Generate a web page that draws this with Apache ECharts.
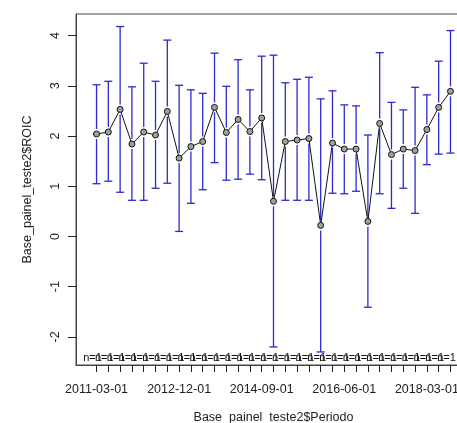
<!DOCTYPE html>
<html>
<head>
<meta charset="utf-8">
<script src="https://cdn.jsdelivr.net/npm/echarts@6/dist/echarts.min.js"></script>
<style>
  html, body { margin: 0; padding: 0; background: #fff; overflow: hidden; }
  #chart { width: 490px; height: 423px; }
</style>
</head>
<body>
<div id="chart"></div>
<script>
// quarterly periods, one group each
const periods = [
  '2011-03-01', '2011-06-01', '2011-09-01', '2011-12-01',
  '2012-03-01', '2012-06-01', '2012-09-01', '2012-12-01',
  '2013-03-01', '2013-06-01', '2013-09-01', '2013-12-01',
  '2014-03-01', '2014-06-01', '2014-09-01', '2014-12-01',
  '2015-03-01', '2015-06-01', '2015-09-01', '2015-12-01',
  '2016-03-01', '2016-06-01', '2016-09-01', '2016-12-01',
  '2017-03-01', '2017-06-01', '2017-09-01', '2017-12-01',
  '2018-03-01', '2018-06-01', '2018-09-01'
]
const means = [2.04, 2.08, 2.53, 1.84, 2.08, 2.02, 2.49, 1.56, 1.79, 1.89, 2.57, 2.07, 2.33, 2.09, 2.36, 0.70,
  1.89, 1.92, 1.95, 0.22, 1.86, 1.74, 1.74, 0.30, 2.25, 1.63, 1.74, 1.71, 2.13, 2.57, 2.89]
const upper = [3.02, 3.09, 4.18, 2.98, 3.45, 3.09, 3.91, 3.01, 2.92, 2.85, 3.65, 2.99, 3.52, 2.92, 3.59, 3.61,
  3.06, 3.13, 3.17, 2.74, 2.90, 2.62, 2.60, 2.02, 3.66, 2.67, 2.52, 2.97, 2.82, 3.49, 4.10]
const lower = [1.05, 1.10, 0.88, 0.72, 0.72, 0.96, 1.06, 0.10, 0.66, 0.93, 1.47, 1.12, 1.14, 1.24, 1.13, -2.20,
  0.72, 0.72, 0.72, -2.30, 0.86, 0.85, 0.90, -1.41, 0.85, 0.56, 0.96, 0.46, 1.43, 1.64, 1.66]
const counts = [1, 1, 1, 1, 1, 1, 1, 1, 1, 1, 1, 1, 1, 1, 1, 1, 1, 1, 1, 1, 1, 1, 1, 1, 1, 1, 1, 1, 1, 1, 1]
const xLabelIdx = [0, 7, 14, 21, 28]
const yTicks = [-2, -1, 0, 1, 2, 3, 4]

const barColor = '#2b2bd0'
const font = 'Liberation Sans, Arial, sans-serif'

// the plot box runs past the right edge of the window, like the original
const chart = echarts.init(document.getElementById('chart'), null, { renderer: 'canvas' })

const idx = periods.map((p, i) => i)

chart.setOption({
  animation: false,
  grid: {
    left: 76,
    top: 14,
    width: 395,
    height: 351,
    outerBoundsMode: 'none',
    containLabel: false,
    show: true,
    borderColor: '#444',
    borderWidth: 1,
    backgroundColor: 'transparent'
  },
  xAxis: {
    type: 'value',
    min: -1.74,
    max: 31.74,
    name: 'Base_painel_teste2$Periodo',
    nameLocation: 'middle',
    nameGap: 46,
    nameTextStyle: { color: '#222', fontSize: 12.5, fontFamily: font },
    axisLine: { show: true, onZero: false, lineStyle: { color: '#444', width: 1 } },
    splitLine: { show: false },
    axisTick: { show: true, inside: false, length: 7, customValues: idx, lineStyle: { color: '#222', width: 1 } },
    axisLabel: {
      customValues: xLabelIdx,
      margin: 18,
      color: '#222',
      fontSize: 12.5,
      fontFamily: font,
      formatter: v => periods[Math.round(v)]
    }
  },
  yAxis: {
    type: 'value',
    min: -2.56,
    max: 4.43,
    name: 'Base_painel_teste2$ROIC',
    nameLocation: 'middle',
    nameRotate: 90,
    nameGap: 42,
    nameTextStyle: { color: '#222', fontSize: 12.5, fontFamily: font },
    axisLine: { show: true, onZero: false, lineStyle: { color: '#444', width: 1 } },
    splitLine: { show: false },
    axisTick: { show: true, inside: false, length: 8, customValues: yTicks, lineStyle: { color: '#222', width: 1 } },
    axisLabel: {
      customValues: yTicks,
      rotate: 90,
      margin: 14,
      color: '#222',
      fontSize: 12.5,
      fontFamily: font
    }
  },
  series: [
    {
      // confidence bars, broken around the mean
      type: 'custom',
      data: idx.map(i => [i, upper[i], lower[i], means[i]]),
      renderItem: function(params, api) {
        const x = api.value(0)
        const top = api.coord([x, api.value(1)])
        const bot = api.coord([x, api.value(2)])
        const mid = api.coord([x, api.value(3)])
        const gap = 5
        const cap = 4
        const style = { stroke: barColor, lineWidth: 1.3 }
        return {
          type: 'group',
          children: [
            { type: 'line', shape: { x1: top[0], y1: top[1], x2: top[0], y2: mid[1] - gap }, style: style },
            { type: 'line', shape: { x1: bot[0], y1: mid[1] + gap, x2: bot[0], y2: bot[1] }, style: style },
            { type: 'line', shape: { x1: top[0] - cap, y1: top[1], x2: top[0] + cap, y2: top[1] }, style: style },
            { type: 'line', shape: { x1: bot[0] - cap, y1: bot[1], x2: bot[0] + cap, y2: bot[1] }, style: style }
          ]
        }
      },
      z: 2
    },
    {
      type: 'line',
      data: idx.map(i => [i, means[i]]),
      symbol: 'circle',
      symbolSize: 6,
      showSymbol: true,
      itemStyle: { color: '#a0a0a0', borderColor: '#111', borderWidth: 1 },
      lineStyle: { color: '#111', width: 1 },
      z: 3
    },
    {
      // group sizes along the bottom
      type: 'custom',
      data: idx.map(i => [i, counts[i]]),
      renderItem: function(params, api) {
        const p = api.coord([api.value(0), 0])
        const cs = params.coordSys
        return {
          type: 'text',
          style: {
            text: 'n=' + api.value(1),
            x: p[0] - 4,
            y: cs.y + cs.height - 7,
            align: 'center',
            verticalAlign: 'middle',
            fill: '#111',
            fontSize: 11,
            fontFamily: font
          }
        }
      },
      z: 1
    }
  ]
})
</script>
</body>
</html>
